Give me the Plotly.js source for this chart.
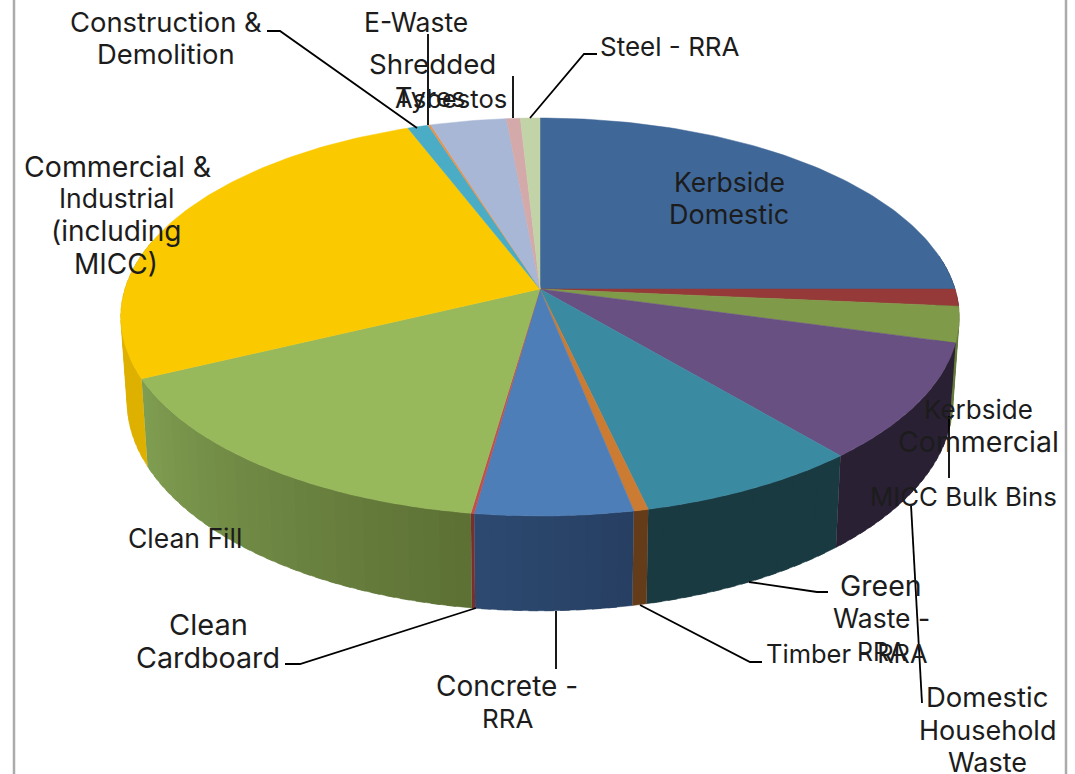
<!DOCTYPE html>
<html>
<head>
<meta charset="utf-8">
<script src="https://cdn.plot.ly/plotly-3.0.1.min.js"></script>
<style>html,body{margin:0;padding:0;background:#fff}#chart{width:1075px;height:774px}</style>
</head>
<body>
<div id="chart"></div>
<script>
// ---- data (share of waste, %) ----
var categories = ['Kerbside Domestic','Kerbside Commercial','MICC Bulk Bins','Domestic Household Waste','Green Waste - RRA','Timber - RRA','Concrete - RRA','Clean Cardboard','Clean Fill','Commercial & Industrial (including MICC)','Construction & Demolition','E-Waste','Shredded Tyres','Asbestos','Steel - RRA'];
var values = [25.0,1.38,2.9,9.53,7.57,0.49,5.30,0.11,15.59,26.25,0.92,0.11,3.36,0.61,0.86];

// ---- styles ----
var topColors = ['#3F6797','#953A38','#7F9A48','#695082','#3A8AA2','#CB7B32','#4E7EB8','#C0504D','#98B95B','#FBC900','#4BACC6','#E8924A','#A8B7D6','#D3A9AA','#C3D3A8'];
var wallStart = [[38,62,90],[90,35,34],[100,122,58],[42,32,52],[26,58,66],[100,60,26],[38,62,98],[120,48,46],[92,112,52],[222,176,0],[45,103,119],[150,88,40],[100,110,128],[126,100,100],[116,126,100]];
var wallEnd   = [[38,62,90],[90,35,34],[100,122,58],[42,32,52],[26,58,66],[100,60,26],[46,74,112],[120,48,46],[128,158,82],[222,176,0],[45,103,119],[150,88,40],[100,110,128],[126,100,100],[116,126,100]];

// ---- label layout (page pixels), one entry per wrapped line: text, centre x, centre y, font size ----
var labels = [
 ['Construction &',166,22,27.4],['Demolition',166,54,27.4],['E-Waste',416,22,26.5],
 ['Shredded',432,64,27.7],['Tyres',430,97,27],['Asbestos',451,98,25.6],
 ['Steel - RRA',670,46,26],['Kerbside',729,182,26.5],['Domestic',729,214,27],
 ['Commercial &',117,166,28.5],['Industrial',116,198,26.5],['(including',116,231,28],['MICC)',116,264,28],
 ['Kerbside',978,409,26],['Commercial',978,441,28.5],['MICC Bulk Bins',963,496,25.8],
 ['Green',881,585,28.5],['Waste -',881,618,26.5],['RRA',881,652,25],['Timber - RRA',847,653,25.5],
 ['Domestic',987,697,27.5],['Household',987,730,27],['Waste',987,762,27],
 ['Concrete -',507,686,28],['RRA',507,718,26],['Clean',208,624,29],['Cardboard',208,657,28.7],['Clean Fill',185,538,26.5]
];
var leaders = [
 [[267,280,417],[31,31,128]],[[428,428],[34,125]],[[513,513],[76,118]],[[597,584,530],[54,54,118]],
 [[949,949],[416,478]],[[911,922],[505,703]],[[749,817,828],[582,592,592]],[[640,750,762],[605,662,662]],
 [[556,556],[611,669]],[[476,300,285],[608,664,664]]
];

// ---- perspective projection of the disc ----
var CX=540, CY=289, R=415, A=199, K=28/199;
function topPt(deg){
  var t=deg*Math.PI/180, s=Math.sin(t), c=Math.cos(t), w=1+K*c;
  return [CX+R*s/w, CY-(A-28*K)*c/w];
}
function botPt(deg){
  var p=topPt(deg);
  return [CX+(p[0]-CX)*0.985, 372+(p[1]-CY)*1.052];
}
var total=values.reduce(function(a,b){return a+b;},0);
var traces=[], cum=0, tops=[];
function poly(xs,ys,col){
  return {type:'scatter',mode:'lines',x:xs,y:ys,fill:'toself',fillcolor:col,line:{color:col,width:0.5},hoverinfo:'skip',showlegend:false};
}
function wallPoly(d0,d1,col){
  var xs=[],ys=[],q,p;
  for(q=0;q<=2;q++){p=topPt(d0+(d1-d0)*q/2);xs.push(p[0]);ys.push(p[1]);}
  for(q=2;q>=0;q--){p=botPt(d0+(d1-d0)*q/2);xs.push(p[0]);ys.push(p[1]);}
  return poly(xs,ys,col);
}
values.forEach(function(v,i){
  var a0=cum/total*360, a1=(cum+v)/total*360; cum+=v;
  // side wall: each band overlaps the next one so that no seams show
  var lo=Math.max(a0,80), hi=Math.min(a1,285);
  if(hi>lo){
    var n=Math.max(1,Math.ceil((hi-lo)/2)), step=(hi-lo)/n;
    for(var b=0;b<n;b++){
      var f=(b+0.5)/n, c=wallStart[i].map(function(u,j){return Math.round(u+(wallEnd[i][j]-u)*f);});
      var d0=lo+step*b;
      traces.push(wallPoly(d0,Math.min(hi,d0+step*1.6),'rgb('+c.join(',')+')'));
    }
  }
  // top face
  var tx=[CX],ty=[CY], m=Math.max(2,Math.ceil((a1-a0)));
  for(var k=0;k<=m;k++){var pt=topPt(a0+(a1-a0)*k/m);tx.push(pt[0]);ty.push(pt[1]);}
  tx.push(CX);ty.push(CY);
  tops.push(poly(tx,ty,topColors[i]));
});
traces=traces.concat(tops);
leaders.forEach(function(l){
  traces.push({type:'scatter',mode:'lines',x:l[0],y:l[1],line:{color:'#000',width:1.8},hoverinfo:'skip',showlegend:false});
});
[14,1066].forEach(function(x){
  traces.push({type:'scatter',mode:'lines',x:[x,x],y:[0,774],line:{color:'#ABABAB',width:2.5},hoverinfo:'skip',showlegend:false});
});

var layout={
  width:1075,height:774,margin:{l:0,r:0,t:0,b:0},paper_bgcolor:'#fff',plot_bgcolor:'#fff',showlegend:false,
  xaxis:{range:[0,1075],visible:false,fixedrange:true},
  yaxis:{range:[774,0],visible:false,fixedrange:true},
  annotations:labels.map(function(l){
    return {text:l[0],x:l[1],y:l[2],xref:'x',yref:'y',xanchor:'center',yanchor:'middle',align:'center',showarrow:false,
      font:{family:'Inter, "Open Sans", sans-serif',size:l[3],color:'#1c1c1c'}};
  })
};
Plotly.newPlot('chart',traces,layout,{displayModeBar:false,staticPlot:true});
</script>
</body>
</html>
